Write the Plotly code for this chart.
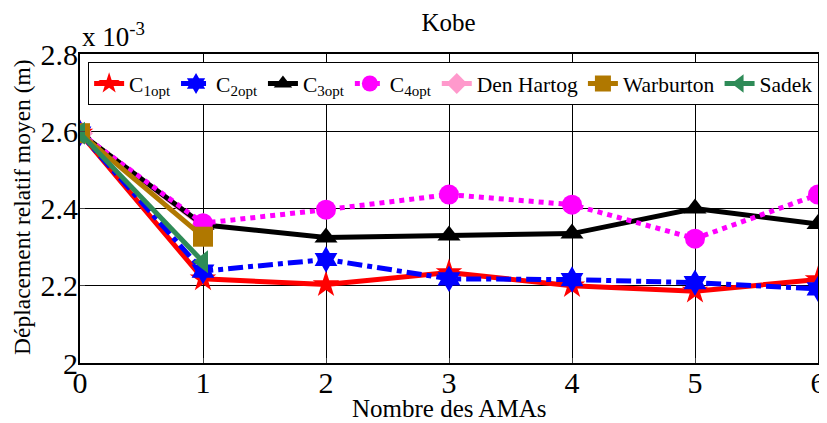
import plotly.graph_objects as go

# nombre d'AMAs
x_full = [0, 1, 2, 3, 4, 5, 6]
x_short = [0, 1]

# deplacement relatif moyen (x 1e-3 m)
c1opt = [2.595, 2.218, 2.203, 2.234, 2.200, 2.186, 2.216]
c2opt = [2.595, 2.238, 2.268, 2.218, 2.216, 2.208, 2.192]
c3opt = [2.595, 2.358, 2.325, 2.330, 2.335, 2.400, 2.360]
c4opt = [2.595, 2.362, 2.397, 2.436, 2.410, 2.322, 2.436]
den_hartog = [2.595, 2.355]
warburton = [2.595, 2.327]
sadek = [2.595, 2.262]

# ordre de dessin (Den Hartog en dessous), legendrank garde l'ordre de la legende
series = [
    # name, x, y, color, dash, symbol, rank
    ('Den Hartog', x_short, den_hartog, '#FF99CC', 'solid', 'diamond', 5),
    ('C<sub>1opt</sub>', x_full, c1opt, 'red', 'solid', 'star', 1),
    ('C<sub>2opt</sub>', x_full, c2opt, 'blue', 'dashdot', 'hexagram', 2),
    ('C<sub>3opt</sub>', x_full, c3opt, 'black', 'solid', 'triangle-up', 3),
    ('C<sub>4opt</sub>', x_full, c4opt, 'magenta', 'dot', 'circle', 4),
    ('Warburton', x_short, warburton, '#B07800', 'solid', 'square', 6),
    ('Sadek', x_short, sadek, '#2E8B57', 'solid', 'triangle-left', 7),
]

fig = go.Figure()
for name, xs, ys, col, dash, sym, rank in series:
    fig.add_trace(go.Scatter(
        x=xs, y=ys, name=name, mode='lines+markers', legendrank=rank,
        line=dict(color=col, width=5, dash=dash),
        marker=dict(symbol=sym, size=20, color=col),
    ))

font = 'Liberation Serif, Times New Roman, serif'
# la page a une marge de 8px -> figure de 819x415
fig.update_layout(
    width=819, height=415,
    margin=dict(l=72, r=9, t=46, b=60, autoexpand=False),
    paper_bgcolor='white', plot_bgcolor='white',
    font=dict(family=font, color='black', size=20),
    title=dict(text='Kobe', x=0.538, xanchor='center', y=0.966, yanchor='middle',
               font=dict(size=25)),
    showlegend=True,
    legend=dict(orientation='h', x=0.011, y=0.974, xanchor='left', yanchor='top',
                bordercolor='black', borderwidth=1, bgcolor='white',
                font=dict(size=21.5), itemwidth=30, tracegroupgap=0),
    xaxis=dict(range=[0, 6], tickvals=x_full, showgrid=True, gridcolor='black',
               gridwidth=1, zeroline=False, showline=True, linecolor='black',
               linewidth=2, mirror=True, ticks='inside', ticklen=5,
               tickfont=dict(size=30), automargin=False, ticklabelstandoff=-8),
    yaxis=dict(range=[2.0, 2.8], tickvals=[2.0, 2.2, 2.4, 2.6, 2.8],
               ticktext=['2', '2.2', '2.4', '2.6', '2.8'], showgrid=True,
               gridcolor='black', gridwidth=1, zeroline=False, showline=True,
               linecolor='black', linewidth=2, mirror=True, ticks='inside',
               ticklen=5, tickfont=dict(size=30), automargin=False,
               ticklabelstandoff=-6),
)
fig.add_annotation(text='x 10<sup>-3</sup>', xref='paper', yref='paper', x=0.0,
                   y=1.0, xanchor='left', yanchor='bottom', showarrow=False,
                   font=dict(size=27))
fig.add_annotation(text='Nombre des AMAs', xref='paper', yref='paper', x=0.5,
                   y=-0.146, xanchor='center', yanchor='middle', showarrow=False,
                   font=dict(size=25))
fig.add_annotation(text='Déplacement relatif moyen (m)', xref='paper', yref='paper',
                   x=-0.0786, y=0.505, xanchor='center', yanchor='middle',
                   textangle=-90, showarrow=False, font=dict(size=23.5))

fig.write_html('out.html')
